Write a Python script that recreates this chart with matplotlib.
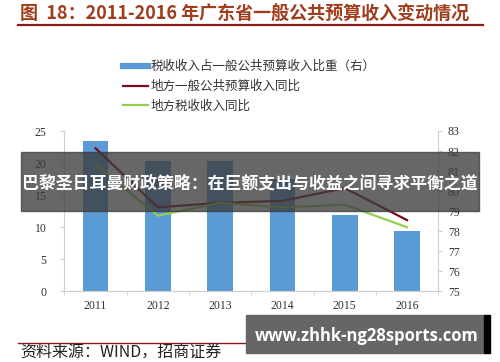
import matplotlib
matplotlib.use("Agg")
import matplotlib.pyplot as plt
from matplotlib.lines import Line2D
from matplotlib.patches import Rectangle

plt.rcParams['font.family'] = ['Noto Sans CJK SC', 'DejaVu Sans']

# data
years = ['2011', '2012', '2013', '2014', '2015', '2016']
tax_share = [82.5, 81.5, 81.5, 80.6, 78.8, 78.0]      # right axis, bars
budget_yoy = [22.3, 13.1, 13.8, 14.1, 16.1, 11.1]     # left axis, dark red
tax_yoy = [19.8, 11.8, 13.8, 13.1, 13.5, 10.0]        # left axis, green
left_ticks = [0, 5, 10, 15, 20, 25]
right_ticks = [75, 76, 77, 78, 79, 80, 81, 82, 83]

labels = ['税收收入占一般公共预算收入比重（右）', '地方一般公共预算收入同比', '地方税收收入同比']
c_bar = '#5B9BD5'
c_red = '#7A0C1E'
c_green = '#92D050'
c_axis = '#D0D0D0'
serif = 'Liberation Serif'

W, H = 500, 362
fig = plt.figure(figsize=(W / 100, H / 100), dpi=100)
fig.patch.set_facecolor('white')

ax = fig.add_axes([64.4 / W, 1 - 291.3 / H, 373.8 / W, 160.3 / H])
ax2 = ax.twinx()
# bars on the right axis, behind the lines
ax.set_zorder(2)
ax.patch.set_visible(False)

x = range(len(years))
ax2.bar(x, [v - 75 for v in tax_share], bottom=75, width=0.41, color=c_bar)
ax.plot(x, budget_yoy, color=c_red, lw=1.6)
ax.plot(x, tax_yoy, color=c_green, lw=1.6)

ax.set_xlim(-0.5, 5.5)
ax.set_ylim(0, 25)
ax2.set_ylim(75, 83)
ax.set_yticks(left_ticks)
ax2.set_yticks(right_ticks)
ax.set_xticks(list(x))
ax.set_xticklabels(years)
ax.set_xticks([i - 0.5 for i in range(len(years) + 1)], minor=True)

for a in (ax, ax2):
    for s in a.spines.values():
        s.set_color(c_axis)
        s.set_linewidth(0.8)
    a.spines['top'].set_visible(False)
    a.tick_params(colors='#333333', labelsize=8.5, length=3, width=0.8, color=c_axis)
    for t in a.get_xticklabels() + a.get_yticklabels():
        t.set_fontfamily(serif)
ax.spines['right'].set_visible(False)
ax2.spines['left'].set_visible(False)
ax.tick_params(axis='x', which='major', length=0, pad=6)
ax.tick_params(axis='x', which='minor', length=3, color=c_axis)
ax.tick_params(axis='y', pad=10)
ax2.tick_params(axis='y', pad=4)

# legend
handles = [Line2D([], [], color=c_bar, lw=4.5),
           Line2D([], [], color=c_red, lw=1.6),
           Line2D([], [], color=c_green, lw=1.6)]
fig.legend(handles, labels, loc='upper left', bbox_to_anchor=(123 / W, 1 - 60 / H),
           frameon=False, fontsize=9, handlelength=2.0, handletextpad=0.2,
           labelspacing=0.55, borderpad=0, borderaxespad=0, labelcolor='#333333')

# title and rules
fig.text(20 / W, 1 - 14 / H, '图  18：2011-2016 年广东省一般公共预算收入变动情况',
         fontsize=13, fontweight='bold', color='#A13D1D', va='center', ha='left')
fig.add_artist(Line2D([18 / W, 483 / W], [1 - 25 / H] * 2, color='#8B1A1A', lw=1.6))
fig.add_artist(Line2D([18 / W, 483 / W], [1 - 342.7 / H] * 2, color='#8B1A1A', lw=1.0))
fig.text(20 / W, 1 - 353 / H, '资料来源：WIND，招商证券', fontsize=11.5, color='#222222',
         va='center', ha='left')

# overlays
fig.add_artist(Rectangle((21 / W, 1 - 210.7 / H), 458 / W, 58.4 / H,
                         transform=fig.transFigure, color='#3C3C3C', alpha=0.78, zorder=10))
fig.text(250 / W, 1 - 183.5 / H, '巴黎圣日耳曼财政策略：在巨额支出与收益之间寻求平衡之道',
         fontsize=12.2, fontweight='bold', color='white', ha='center', va='center', zorder=11)
fig.add_artist(Rectangle((246 / W, 1 - 352.7 / H), 238 / W, 37.7 / H,
                         transform=fig.transFigure, color='#666666', zorder=10))
fig.add_artist(Rectangle((484 / W, 1 - 352.7 / H), 6 / W, 37.7 / H,
                         transform=fig.transFigure, color='black', zorder=10))
fig.text(367 / W, 1 - 336 / H, 'www.zhhk-ng28sports.com', fontsize=12, fontweight='bold',
         family=['Open Sans', 'DejaVu Sans'], color='white', ha='center', va='center', zorder=11)

fig.savefig('out.png', dpi=100)
